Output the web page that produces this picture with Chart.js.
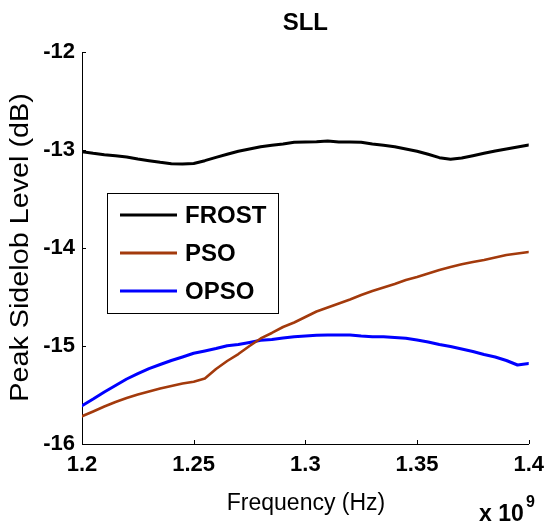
<!DOCTYPE html>
<html>
<head>
<meta charset="utf-8">
<script src="https://cdn.jsdelivr.net/npm/chart.js@4/dist/chart.umd.min.js"></script>
<style>
  html, body { margin: 0; padding: 0; background: #fff; }
  #wrap { width: 552px; height: 526px; }
</style>
</head>
<body>
<div id="wrap"><canvas id="sllChart" width="552" height="526"></canvas></div>
<script>
// frequency in units of 1e9 Hz
const freqs = [1.200, 1.205, 1.210, 1.215, 1.220, 1.225, 1.230, 1.235, 1.240, 1.245,
               1.250, 1.255, 1.260, 1.265, 1.270, 1.275, 1.280, 1.285, 1.290, 1.295,
               1.300, 1.305, 1.310, 1.315, 1.320, 1.325, 1.330, 1.335, 1.340, 1.345,
               1.350, 1.355, 1.360, 1.365, 1.370, 1.375, 1.380, 1.385, 1.390, 1.395, 1.400];

const frost = [-13.017, -13.034, -13.048, -13.058, -13.071, -13.092, -13.109, -13.126, -13.140, -13.143,
               -13.137, -13.109, -13.075, -13.044, -13.013, -12.990, -12.966, -12.952, -12.939, -12.922,
               -12.918, -12.915, -12.908, -12.918, -12.918, -12.922, -12.939, -12.952, -12.966, -12.990,
               -13.013, -13.044, -13.078, -13.095, -13.082, -13.058, -13.034, -13.010, -12.990, -12.969, -12.949];

const pso = [-15.717, -15.668, -15.617, -15.571, -15.531, -15.495, -15.464, -15.434, -15.408, -15.383,
             -15.364, -15.332, -15.235, -15.153, -15.082, -15.000, -14.923, -14.867, -14.806, -14.760,
             -14.704, -14.648, -14.607, -14.566, -14.526, -14.480, -14.439, -14.403, -14.367, -14.327,
             -14.296, -14.260, -14.224, -14.194, -14.166, -14.143, -14.122, -14.097, -14.071, -14.056, -14.041];

const opso = [-15.609, -15.541, -15.469, -15.403, -15.337, -15.281, -15.230, -15.189, -15.148, -15.112,
              -15.074, -15.051, -15.026, -14.997, -14.985, -14.964, -14.942, -14.934, -14.918, -14.905,
              -14.898, -14.891, -14.888, -14.888, -14.888, -14.898, -14.905, -14.905, -14.913, -14.921,
              -14.939, -14.959, -14.985, -15.005, -15.031, -15.056, -15.087, -15.112, -15.148, -15.194, -15.179];

const seriesNames = ['FROST', 'PSO', 'OPSO'];
const seriesColors = ['#000000', '#a33a0c', '#0000ff'];
const yTicks = [-16, -15, -14, -13, -12];
const xTicks = [1.2, 1.25, 1.3, 1.35, 1.4];

const FONT = '"Liberation Sans", Arial, sans-serif';

function pts(ys) {
    return freqs.map((f, i) => ({ x: f, y: ys[i] }));
}

// text, inward ticks and legend drawn around the library's axes
const decorPlugin = {
    id: 'decor',
    afterDraw(chart) {
        const ctx = chart.ctx;
        const area = chart.chartArea;
        const xs = chart.scales.x;
        const ys = chart.scales.y;
        ctx.save();

        // inward ticks
        ctx.strokeStyle = '#000';
        ctx.lineWidth = 1;
        ctx.beginPath();
        xTicks.forEach(v => {
            const px = Math.round(xs.getPixelForValue(v)) + 0.5;
            ctx.moveTo(px, area.bottom);
            ctx.lineTo(px, area.bottom - 4);
        });
        yTicks.forEach(v => {
            const py = Math.round(ys.getPixelForValue(v)) + 0.5;
            ctx.moveTo(area.left, py);
            ctx.lineTo(area.left + 4, py);
        });
        ctx.stroke();

        // title
        ctx.fillStyle = '#000';
        ctx.textAlign = 'center';
        ctx.textBaseline = 'alphabetic';
        ctx.font = 'bold 24px ' + FONT;
        ctx.fillText('SLL', (area.left + area.right) / 2, 30);

        // x label
        ctx.font = '23px ' + FONT;
        ctx.fillText('Frequency (Hz)', 306, 510);

        // exponent
        ctx.textAlign = 'left';
        ctx.font = 'bold 23px ' + FONT;
        ctx.fillText('x 10', 479, 521);
        ctx.font = 'bold 16px ' + FONT;
        ctx.fillText('9', 526, 507);

        // y label
        ctx.save();
        ctx.translate(28, 247.5);
        ctx.rotate(-Math.PI / 2);
        ctx.scale(1.15, 1);
        ctx.textAlign = 'center';
        ctx.font = '25px ' + FONT;
        ctx.fillText('Peak Sidelob Level (dB)', 0, 0);
        ctx.restore();

        // legend
        const lx = 107, ly = 193, lw = 171, lh = 120;
        ctx.fillStyle = '#fff';
        ctx.fillRect(lx, ly, lw, lh);
        ctx.strokeStyle = '#000';
        ctx.lineWidth = 1;
        ctx.strokeRect(lx + 0.5, ly + 0.5, lw, lh);
        ctx.font = 'bold 24px ' + FONT;
        ctx.textBaseline = 'middle';
        ctx.textAlign = 'left';
        seriesNames.forEach((name, i) => {
            const yy = 215 + i * 38;
            ctx.strokeStyle = seriesColors[i];
            ctx.lineWidth = 3;
            ctx.beginPath();
            ctx.moveTo(120, yy);
            ctx.lineTo(177, yy);
            ctx.stroke();
            ctx.fillStyle = '#000';
            ctx.fillText(name, 185, yy + 1);
        });

        ctx.restore();
    }
};

const ctx = document.getElementById('sllChart').getContext('2d');
const sllChart = new Chart(ctx, {
    type: 'line',
    data: {
        datasets: [
            { label: seriesNames[0], data: pts(frost), borderColor: seriesColors[0], borderWidth: 3 },
            { label: seriesNames[1], data: pts(pso), borderColor: seriesColors[1], borderWidth: 2.6 },
            { label: seriesNames[2], data: pts(opso), borderColor: seriesColors[2], borderWidth: 3 }
        ]
    },
    options: {
        responsive: false,
        animation: false,
        events: [],
        layout: {
            padding: { left: 0, right: 17, top: 52, bottom: 0 }
        },
        elements: {
            point: { radius: 0 },
            line: { tension: 0, fill: false, borderCapStyle: 'round', borderJoinStyle: 'round' }
        },
        plugins: {
            legend: { display: false },
            tooltip: { enabled: false },
            title: { display: false }
        },
        scales: {
            x: {
                type: 'linear',
                min: 1.2,
                max: 1.4,
                afterBuildTicks: s => { s.ticks = xTicks.map(v => ({ value: v })); },
                afterFit: s => { s.height = 82; },
                ticks: {
                    padding: 8,
                    color: '#000',
                    maxRotation: 0,
                    font: { size: 22, weight: 'bold', family: FONT },
                    callback: v => String(Number(v.toFixed(2)))
                },
                grid: { display: true, drawOnChartArea: false, drawTicks: false },
                border: { display: true, color: '#000', width: 1 }
            },
            y: {
                type: 'linear',
                min: -16,
                max: -12,
                afterBuildTicks: s => { s.ticks = yTicks.map(v => ({ value: v })); },
                afterFit: s => { s.width = 82; },
                ticks: {
                    padding: 7,
                    color: '#000',
                    font: { size: 22, weight: 'bold', family: FONT },
                    callback: v => String(v)
                },
                grid: { display: true, drawOnChartArea: false, drawTicks: false },
                border: { display: true, color: '#000', width: 1 }
            }
        }
    },
    plugins: [decorPlugin]
});
</script>
</body>
</html>
